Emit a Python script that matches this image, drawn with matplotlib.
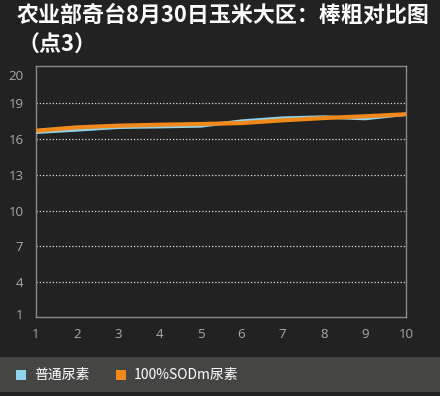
import matplotlib
matplotlib.use("Agg")
import matplotlib.pyplot as plt
from matplotlib.patches import Rectangle

plt.rcParams['font.family'] = ['Noto Sans CJK SC', 'DejaVu Sans']

title = "农业部奇台8月30日玉米大区：棒粗对比图\n（点3）"
x_vals = [1, 2, 3, 4, 5, 6, 7, 8, 9, 10]
series_names = ["普通尿素", "100%SODm尿素"]
normal_urea = [16.56, 16.76, 16.98, 17.03, 17.09, 17.51, 17.76, 17.85, 17.71, 18.08]
sodm_urea = [16.70, 16.98, 17.12, 17.20, 17.26, 17.34, 17.57, 17.76, 17.91, 18.08]
ytick_pos = [1.3, 4, 7, 10, 13, 16, 19, 21.4]
ytick_labels = ["1", "4", "7", "10", "13", "16", "19", "20"]
colors = ["#8fd3ec", "#f0881a"]

W, H = 440, 396
fig = plt.figure(figsize=(W / 100, H / 100), dpi=100)
fig.patch.set_facecolor("#222222")

ax = fig.add_axes([36 / W, (H - 317) / H, (406 - 36) / W, (317 - 66) / H])
ax.set_facecolor("#222222")

ax.plot(x_vals, normal_urea, color=colors[0], lw=2.4, solid_capstyle="butt", zorder=3)
ax.plot(x_vals, sodm_urea, color=colors[1], lw=3.0, solid_capstyle="butt", zorder=4)

ax.set_xlim(1, 10)
ax.set_ylim(1.06, 22.13)
ax.set_xticks(x_vals)
ax.set_xticklabels([str(v) for v in x_vals])
ax.set_yticks(ytick_pos)
ax.set_yticklabels(ytick_labels)
ax.tick_params(length=0, colors="#aaaaaa", labelsize=9.5)
ax.tick_params(axis="y", pad=9)
ax.tick_params(axis="x", pad=8)
for lab in ax.get_xticklabels() + ax.get_yticklabels():
    lab.set_fontfamily(["Open Sans", "DejaVu Sans"])

ax.yaxis.grid(True, color="#dddddd", linestyle=(0, (1, 1.6)), linewidth=0.9)
gl = ax.get_ygridlines()
gl[0].set_visible(False)
gl[-1].set_visible(False)
for s in ax.spines.values():
    s.set_color("#8a8a8a")
    s.set_linewidth(1.0)

fig.text(17 / W, 1 - 4 / H, title, color="white", fontsize=15.8, fontweight="bold",
         va="top", ha="left", linespacing=1.4)

# legend band
fig.patches.append(Rectangle((0, (H - 392) / H), 1, 35 / H, transform=fig.transFigure,
                             facecolor="#454644", edgecolor="none", zorder=0))
leg_y = 1 - 375 / H
sq = [(16, colors[0]), (116, colors[1])]
txt_x = [34, 134]
for (sx, c), tx, name in zip(sq, txt_x, series_names):
    fig.patches.append(Rectangle((sx / W, leg_y - 5 / H), 10 / W, 10 / H,
                                 transform=fig.transFigure, facecolor=c, edgecolor="none", zorder=1))
    fig.text(tx / W, leg_y, name, color="white", fontsize=10, va="center", ha="left",
             family=["Noto Sans CJK SC", "DejaVu Sans"])

fig.savefig("out.png", dpi=100, facecolor=fig.get_facecolor())
